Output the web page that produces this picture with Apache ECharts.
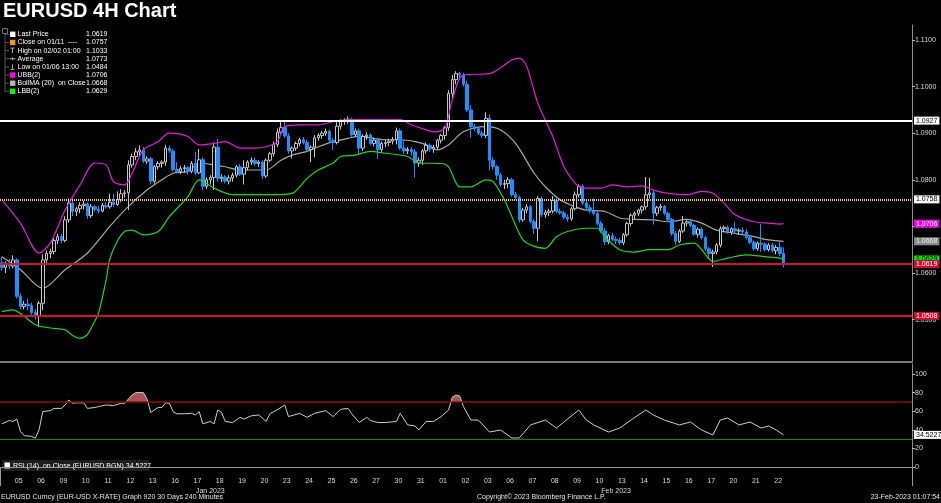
<!DOCTYPE html>
<html><head><meta charset="utf-8">
<script src="https://cdn.jsdelivr.net/npm/echarts@6/dist/echarts.min.js"></script>
<style>html,body{margin:0;padding:0;background:#000;}#c{width:941px;height:503px;}</style>
</head><body><div id="c"></div>
<script>
// ---------- DATA ----------
const dayLabels = ['04','05','06','09','10','11','12','13','16','17','18','19','20','23','24','25','26','27','30','31',
                   '01','02','03','06','07','08','09','10','13','14','15','16','17','20','21','22'];
const dayMonths = ['Jan','Jan','Jan','Jan','Jan','Jan','Jan','Jan','Jan','Jan','Jan','Jan','Jan','Jan','Jan','Jan','Jan','Jan','Jan','Jan',
                   'Feb','Feb','Feb','Feb','Feb','Feb','Feb','Feb','Feb','Feb','Feb','Feb','Feb','Feb','Feb','Feb'];
const hours = ['00:00','04:00','08:00','12:00','16:00','20:00'];
const monthLabels = {56: 'Jan 2023', 165: 'Feb 2023'};

// 4H candles: [open, high, low, close]
const candles = [
[1.0622,1.0635,1.0605,1.0612],[1.0612,1.0625,1.0600,1.0618],
[1.0618,1.0630,1.0608,1.0615],[1.0615,1.0638,1.0610,1.0628],[1.0628,1.0632,1.0545,1.0550],[1.0550,1.0556,1.0522,1.0528],[1.0528,1.0540,1.0522,1.0533],[1.0533,1.0545,1.0520,1.0530],
[1.0530,1.0536,1.0508,1.0515],[1.0515,1.0522,1.0500,1.0508],[1.0508,1.0540,1.0484,1.0535],[1.0535,1.0640,1.0520,1.0628],[1.0628,1.0648,1.0622,1.0642],[1.0642,1.0652,1.0632,1.0646],
[1.0646,1.0675,1.0640,1.0670],[1.0670,1.0684,1.0662,1.0678],[1.0678,1.0684,1.0664,1.0670],[1.0670,1.0722,1.0666,1.0714],[1.0714,1.0760,1.0708,1.0750],[1.0750,1.0760,1.0722,1.0732],
[1.0732,1.0742,1.0722,1.0738],[1.0738,1.0752,1.0728,1.0745],[1.0745,1.0755,1.0736,1.0748],[1.0748,1.0752,1.0716,1.0723],[1.0723,1.0748,1.0718,1.0742],[1.0742,1.0746,1.0732,1.0737],
[1.0737,1.0744,1.0728,1.0733],[1.0733,1.0750,1.0730,1.0745],[1.0745,1.0752,1.0738,1.0742],[1.0742,1.0770,1.0738,1.0752],[1.0752,1.0770,1.0742,1.0747],[1.0747,1.0775,1.0744,1.0757],
[1.0757,1.0780,1.0752,1.0770],[1.0770,1.0778,1.0762,1.0772],[1.0772,1.0842,1.0735,1.0832],[1.0832,1.0856,1.0826,1.0850],[1.0850,1.0868,1.0842,1.0860],[1.0860,1.0874,1.0850,1.0864],
[1.0864,1.0870,1.0836,1.0840],[1.0840,1.0850,1.0834,1.0845],[1.0845,1.0850,1.0790,1.0797],[1.0797,1.0832,1.0792,1.0828],[1.0828,1.0840,1.0822,1.0835],[1.0835,1.0842,1.0826,1.0838],
[1.0838,1.0875,1.0830,1.0868],[1.0868,1.0874,1.0858,1.0862],[1.0862,1.0866,1.0818,1.0822],[1.0822,1.0838,1.0814,1.0818],[1.0818,1.0830,1.0812,1.0824],[1.0824,1.0832,1.0816,1.0826],
[1.0826,1.0830,1.0812,1.0818],[1.0818,1.0840,1.0814,1.0835],[1.0835,1.0860,1.0810,1.0815],[1.0815,1.0866,1.0812,1.0843],[1.0843,1.0848,1.0778,1.0786],[1.0786,1.0805,1.0780,1.0800],
[1.0800,1.0810,1.0790,1.0805],[1.0805,1.0880,1.0778,1.0870],[1.0870,1.0887,1.0796,1.0803],[1.0803,1.0812,1.0795,1.0806],[1.0806,1.0810,1.0792,1.0797],[1.0797,1.0810,1.0790,1.0804],
[1.0804,1.0815,1.0796,1.0810],[1.0810,1.0832,1.0805,1.0828],[1.0828,1.0834,1.0808,1.0812],[1.0812,1.0842,1.0790,1.0826],[1.0826,1.0842,1.0820,1.0838],[1.0838,1.0848,1.0832,1.0842],
[1.0842,1.0848,1.0830,1.0835],[1.0835,1.0842,1.0828,1.0838],[1.0838,1.0842,1.0802,1.0808],[1.0808,1.0846,1.0804,1.0842],[1.0842,1.0860,1.0838,1.0856],[1.0856,1.0882,1.0850,1.0876],
[1.0876,1.0910,1.0870,1.0902],[1.0902,1.0928,1.0896,1.0912],[1.0912,1.0927,1.0890,1.0894],[1.0894,1.0900,1.0856,1.0862],[1.0862,1.0872,1.0846,1.0868],[1.0868,1.0882,1.0862,1.0878],
[1.0878,1.0890,1.0872,1.0886],[1.0886,1.0892,1.0876,1.0880],[1.0880,1.0886,1.0860,1.0865],[1.0865,1.0874,1.0838,1.0870],[1.0870,1.0896,1.0848,1.0890],[1.0890,1.0900,1.0884,1.0895],
[1.0895,1.0905,1.0888,1.0900],[1.0900,1.0910,1.0894,1.0904],[1.0904,1.0908,1.0880,1.0885],[1.0885,1.0890,1.0864,1.0880],[1.0880,1.0925,1.0876,1.0915],[1.0915,1.0930,1.0908,1.0925],
[1.0925,1.0932,1.0918,1.0928],[1.0928,1.0936,1.0920,1.0930],[1.0930,1.0933,1.0892,1.0897],[1.0897,1.0910,1.0892,1.0905],[1.0905,1.0910,1.0855,1.0868],[1.0868,1.0898,1.0862,1.0893],
[1.0893,1.0902,1.0886,1.0896],[1.0896,1.0900,1.0874,1.0878],[1.0878,1.0890,1.0872,1.0885],[1.0885,1.0890,1.0845,1.0865],[1.0865,1.0882,1.0860,1.0878],[1.0878,1.0886,1.0870,1.0880],
[1.0880,1.0888,1.0872,1.0883],[1.0883,1.0892,1.0876,1.0886],[1.0886,1.0912,1.0876,1.0905],[1.0905,1.0910,1.0864,1.0868],[1.0868,1.0885,1.0856,1.0862],[1.0862,1.0870,1.0855,1.0865],
[1.0865,1.0870,1.0852,1.0860],[1.0860,1.0866,1.0805,1.0836],[1.0836,1.0848,1.0828,1.0842],[1.0842,1.0866,1.0832,1.0862],[1.0862,1.0880,1.0856,1.0874],[1.0874,1.0878,1.0860,1.0866],
[1.0866,1.0875,1.0858,1.0870],[1.0870,1.0888,1.0864,1.0885],[1.0885,1.0898,1.0878,1.0895],[1.0895,1.0915,1.0886,1.0912],[1.0912,1.0992,1.0905,1.0985],[1.0985,1.1025,1.0975,1.1015],
[1.1015,1.1033,1.1005,1.1028],[1.1028,1.1032,1.1015,1.1025],[1.1025,1.1030,1.1000,1.1005],[1.1005,1.1012,1.0945,1.0950],[1.0950,1.0960,1.0890,1.0914],[1.0914,1.0920,1.0905,1.0910],
[1.0910,1.0915,1.0896,1.0900],[1.0900,1.0905,1.0890,1.0895],[1.0895,1.0945,1.0890,1.0932],[1.0932,1.0940,1.0820,1.0842],[1.0842,1.0848,1.0822,1.0828],[1.0828,1.0832,1.0800,1.0810],
[1.0810,1.0815,1.0785,1.0790],[1.0790,1.0800,1.0780,1.0792],[1.0792,1.0806,1.0782,1.0800],[1.0800,1.0804,1.0764,1.0768],[1.0768,1.0774,1.0758,1.0762],[1.0762,1.0766,1.0708,1.0714],
[1.0714,1.0740,1.0710,1.0735],[1.0735,1.0748,1.0728,1.0742],[1.0742,1.0746,1.0706,1.0710],[1.0710,1.0716,1.0684,1.0696],[1.0696,1.0765,1.0668,1.0760],[1.0760,1.0764,1.0720,1.0725],
[1.0725,1.0735,1.0718,1.0730],[1.0730,1.0738,1.0722,1.0733],[1.0733,1.0765,1.0728,1.0756],[1.0756,1.0760,1.0728,1.0732],[1.0732,1.0738,1.0725,1.0729],[1.0729,1.0734,1.0715,1.0720],
[1.0720,1.0726,1.0710,1.0716],[1.0716,1.0742,1.0712,1.0738],[1.0738,1.0775,1.0734,1.0768],[1.0768,1.0790,1.0762,1.0786],[1.0786,1.0790,1.0746,1.0750],[1.0750,1.0755,1.0736,1.0740],
[1.0740,1.0746,1.0728,1.0733],[1.0733,1.0760,1.0724,1.0728],[1.0728,1.0732,1.0702,1.0706],[1.0706,1.0712,1.0686,1.0690],[1.0690,1.0696,1.0660,1.0667],[1.0667,1.0684,1.0662,1.0680],
[1.0680,1.0686,1.0668,1.0672],[1.0672,1.0678,1.0662,1.0670],[1.0670,1.0675,1.0660,1.0665],[1.0665,1.0686,1.0660,1.0682],[1.0682,1.0710,1.0678,1.0706],[1.0706,1.0728,1.0700,1.0724],
[1.0724,1.0732,1.0716,1.0728],[1.0728,1.0738,1.0722,1.0735],[1.0735,1.0745,1.0728,1.0742],[1.0742,1.0806,1.0736,1.0768],[1.0768,1.0804,1.0760,1.0772],[1.0772,1.0776,1.0704,1.0728],
[1.0728,1.0744,1.0722,1.0740],[1.0740,1.0748,1.0734,1.0743],[1.0743,1.0746,1.0724,1.0728],[1.0728,1.0732,1.0710,1.0715],[1.0715,1.0718,1.0680,1.0685],[1.0685,1.0690,1.0660,1.0668],
[1.0668,1.0694,1.0664,1.0690],[1.0690,1.0722,1.0686,1.0707],[1.0707,1.0714,1.0700,1.0710],[1.0710,1.0714,1.0698,1.0702],[1.0702,1.0706,1.0680,1.0683],[1.0683,1.0698,1.0676,1.0694],
[1.0694,1.0698,1.0672,1.0676],[1.0676,1.0680,1.0648,1.0652],[1.0652,1.0656,1.0630,1.0642],[1.0642,1.0650,1.0613,1.0645],[1.0645,1.0664,1.0640,1.0660],[1.0660,1.0700,1.0655,1.0695],
[1.0695,1.0702,1.0688,1.0698],[1.0698,1.0702,1.0684,1.0688],[1.0688,1.0698,1.0682,1.0695],[1.0695,1.0710,1.0686,1.0690],[1.0690,1.0696,1.0682,1.0692],[1.0692,1.0698,1.0684,1.0688],
[1.0688,1.0694,1.0672,1.0676],[1.0676,1.0680,1.0662,1.0666],[1.0666,1.0670,1.0648,1.0652],[1.0652,1.0668,1.0648,1.0664],[1.0664,1.0705,1.0645,1.0662],[1.0662,1.0666,1.0646,1.0650],
[1.0650,1.0664,1.0646,1.0660],[1.0660,1.0665,1.0644,1.0648],[1.0648,1.0660,1.0640,1.0655],[1.0655,1.0670,1.0636,1.0642],[1.0642,1.0655,1.0612,1.0619]
];

// Bollinger bands: [candle index, value]
const ubb = [[0,1.0757],[5,1.0707],[10,1.0643],[13,1.0664],[17,1.0735],[21,1.0789],[25,1.0836],[28,1.0832],[30,1.0796],[33,1.0789],[35,1.0814],[38,1.0864],[42,1.0882],[45,1.0900],[50,1.0893],[53,1.0875],[57,1.0878],[60,1.0882],[64,1.0868],[68,1.0868],[71,1.0871],[74,1.0882],[76,1.0914],[80,1.0918],[85,1.0918],[89,1.0925],[94,1.0929],[98,1.0929],[107,1.0929],[110,1.0918],[114,1.0907],[116,1.0903],[119,1.0911],[121,1.0971],[124,1.1025],[131,1.1028],[137,1.1057],[139,1.1061],[141,1.1043],[144,1.0964],[148,1.0893],[151,1.0828],[154,1.0793],[156,1.0782],[161,1.0782],[164,1.0789],[168,1.0785],[172,1.0787],[175,1.0778],[179,1.0771],[184,1.0768],[188,1.0775],[191,1.0771],[194,1.0750],[197,1.0725],[202,1.0710],[206,1.0707],[209,1.0705],[210,1.0706]];
const bollMA = [[0,1.0635],[5,1.0607],[11,1.0567],[17,1.0607],[23,1.0643],[29,1.0700],[34,1.0743],[39,1.0778],[43,1.0800],[46,1.0814],[50,1.0818],[53,1.0836],[57,1.0832],[60,1.0828],[64,1.0821],[68,1.0821],[71,1.0821],[75,1.0842],[78,1.0853],[82,1.0861],[85,1.0871],[89,1.0882],[93,1.0889],[96,1.0893],[100,1.0889],[103,1.0886],[107,1.0886],[111,1.0882],[114,1.0875],[117,1.0864],[120,1.0875],[124,1.0903],[130,1.0914],[134,1.0907],[138,1.0878],[143,1.0814],[146,1.0785],[150,1.0757],[154,1.0742],[157,1.0735],[162,1.0732],[166,1.0718],[170,1.0715],[175,1.0714],[179,1.0710],[184,1.0715],[188,1.0707],[192,1.0692],[197,1.0685],[202,1.0678],[206,1.0671],[210,1.0668]];
const lbb = [[0,1.0517],[3,1.0521],[6,1.0507],[9,1.0489],[13,1.0482],[17,1.0478],[19,1.0466],[21,1.0460],[23,1.0468],[24,1.0482],[26,1.0515],[28,1.0585],[29,1.0630],[31,1.0668],[33,1.0689],[35,1.0692],[38,1.0682],[42,1.0689],[45,1.0721],[50,1.0764],[53,1.0800],[57,1.0782],[62,1.0768],[68,1.0768],[73,1.0768],[78,1.0771],[82,1.0803],[85,1.0821],[89,1.0836],[91,1.0850],[95,1.0853],[99,1.0861],[103,1.0857],[109,1.0850],[112,1.0836],[118,1.0835],[120,1.0828],[123,1.0785],[126,1.0785],[130,1.0800],[132,1.0796],[135,1.0757],[137,1.0721],[140,1.0671],[143,1.0657],[146,1.0653],[149,1.0678],[152,1.0689],[157,1.0696],[160,1.0696],[162,1.0678],[166,1.0650],[170,1.0645],[174,1.0650],[179,1.0650],[182,1.0660],[186,1.0664],[188,1.0650],[191,1.0625],[195,1.0632],[200,1.0639],[205,1.0635],[209,1.0632],[210,1.0629]];

// RSI(14): [candle index, value]
const rsi = [[0,46.4],[2,50],[3,49],[4,51.5],[5,38.3],[6,33.6],[8,33],[9,31],[10,40],[11,59.6],[13,60.6],[14,63],[16,63],[17,66.7],[18,72],[19,68.5],[20,69],[22,69],[23,63],[25,64],[26,65],[28,66.7],[30,66],[32,68.5],[33,68.5],[35,77.4],[36,80],[38,80],[39,72.9],[40,58.7],[42,64],[43,64],[44,69],[45,68.5],[46,59.6],[47,57.2],[49,57.2],[51,57.7],[52,56],[53,59.6],[54,46.4],[56,49],[57,46.4],[58,61.3],[59,58.7],[60,49],[62,47.8],[64,53.4],[65,51.5],[67,55],[69,56],[71,49],[72,57.2],[75,64],[76,66.7],[77,54.2],[80,57.7],[82,53.4],[84,57.7],[87,60.6],[89,54.2],[91,62],[93,63],[94,57.2],[96,47.8],[98,53.4],[99,50],[101,47.8],[103,47.8],[106,49],[107,57.7],[109,45.3],[111,44.1],[112,39.8],[114,49],[116,49],[118,54.2],[120,61.3],[121,75],[122,77.4],[123,76.3],[124,65],[126,50.5],[128,50.5],[131,37.6],[134,39.8],[137,31.2],[139,31.2],[142,45.2],[146,50.5],[149,41.9],[151,48.4],[155,61.3],[157,50.5],[159,45.2],[163,37.6],[166,41.9],[169,50.5],[173,61.3],[175,55.9],[178,50.5],[182,45.2],[185,48.4],[188,39.8],[191,34.4],[193,50.5],[195,52.7],[198,45.2],[201,48.4],[204,41.9],[206,44.1],[208,39.8],[210,34.5]];

const priceLabels = [1.05, 1.06, 1.07, 1.08, 1.09, 1.10, 1.11];
const rsiLabels = [0, 20, 40, 60, 80, 100];

const legendNames = ['Last Price','Close on 01/11  ----','High on 02/02 01:00','Average','Low on 01/06 13:00','UBB(2)','BollMA (20)  on Close','LBB(2)'];
const legendValues = ['1.0619','1.0757','1.1033','1.0773','1.0484','1.0706','1.0668','1.0629'];

const lastPrice = 1.0619, closeRef = 1.0758, hLine = 1.0927, lowLine = 1.0508;
const ubbLast = 1.0706, maLast = 1.0668, lbbLast = 1.0629, rsiLast = 34.5227;

// ---------- BUILD ----------
const N = 245;
const categories = [];
const dayLabelAt = {};
dayLabels.forEach((d, k) => {
  const hrs = k === 0 ? hours.slice(4) : hours;
  if (k > 0) dayLabelAt[categories.length + 2] = d;
  hrs.forEach(h => categories.push(dayMonths[k] + ' ' + d + ' ' + h));
});
while (categories.length < N) categories.push('pad' + categories.length);
const febStart = categories.indexOf('Feb 01 00:00');

const FONT = 'Liberation Sans';
const TXT = '#dcdcdc';
const chart = echarts.init(document.getElementById('c'), null, {renderer: 'canvas'});

function tag(value, text, bg, fg, lineStyle) {
  return {
    yAxis: value,
    lineStyle: lineStyle || {color: 'rgba(0,0,0,0)', width: 0},
    label: {show: true, position: 'end', distance: 2, formatter: text, color: fg, backgroundColor: bg,
            padding: [1, 2, 0, 2], fontSize: 7, fontFamily: FONT}
  };
}

const legendGraphics = [];
legendGraphics.push({type: 'line', shape: {x1: 5, y1: 31, x2: 5, y2: 92}, style: {stroke: '#555', lineWidth: 1}});
legendGraphics.push({type: 'rect', shape: {x: 2.5, y: 28.5, width: 5, height: 5}, style: {fill: '#000', stroke: '#777', lineWidth: 1}});
const iconColors = ['#ffffff', '#f7941d', null, null, null, '#ff00ff', '#b4b4b4', '#00ff00'];
legendNames.forEach((n, k) => {
  const y = 34.3 + 8.15 * k;
  legendGraphics.push({type: 'line', shape: {x1: 5, y1: y, x2: 9, y2: y}, style: {stroke: '#555', lineWidth: 1}});
  if (iconColors[k]) {
    legendGraphics.push({type: 'rect', shape: {x: 10, y: y - 2.7, width: 5.4, height: 5.4}, style: {fill: iconColors[k]}});
  } else if (k === 2) {
    legendGraphics.push({type: 'line', shape: {x1: 10.5, y1: y - 2.5, x2: 14.5, y2: y - 2.5}, style: {stroke: '#aaa', lineWidth: 1}});
    legendGraphics.push({type: 'line', shape: {x1: 12.5, y1: y - 2.5, x2: 12.5, y2: y + 2.5}, style: {stroke: '#aaa', lineWidth: 1}});
  } else if (k === 3) {
    legendGraphics.push({type: 'line', shape: {x1: 9.5, y1: y, x2: 15.5, y2: y}, style: {stroke: '#aaa', lineWidth: 1}});
    legendGraphics.push({type: 'line', shape: {x1: 12.5, y1: y - 1.5, x2: 12.5, y2: y + 1.5}, style: {stroke: '#aaa', lineWidth: 1}});
  } else if (k === 4) {
    legendGraphics.push({type: 'line', shape: {x1: 12.5, y1: y - 2.5, x2: 12.5, y2: y + 2.5}, style: {stroke: '#aaa', lineWidth: 1}});
    legendGraphics.push({type: 'line', shape: {x1: 10.5, y1: y + 2.5, x2: 14.5, y2: y + 2.5}, style: {stroke: '#aaa', lineWidth: 1}});
  }
  legendGraphics.push({type: 'text', x: 17.5, y: y, style: {text: n, fill: '#ffffff', font: '7px "' + FONT + '"', verticalAlign: 'middle', align: 'left'}});
  legendGraphics.push({type: 'text', x: 107.5, y: y, style: {text: legendValues[k], fill: '#ffffff', font: '7px "' + FONT + '"', verticalAlign: 'middle', align: 'right'}});
});

const option = {
  backgroundColor: '#000',
  animation: false,
  title: {text: 'EURUSD 4H Chart', left: 1, top: 0, padding: [1, 2],
          textStyle: {color: '#fff', fontSize: 20, fontWeight: 'bold', fontFamily: FONT}},
  grid: [
    {left: 0, right: 29, top: 25, height: 337},
    {left: 0, right: 29, top: 364, height: 110}
  ],
  xAxis: [
    {type: 'category', gridIndex: 0, data: categories, boundaryGap: true,
     axisLine: {show: true, lineStyle: {color: '#7a7a7a', width: 2}}, axisTick: {show: false}, axisLabel: {show: false}, splitLine: {show: false}},
    {type: 'category', gridIndex: 1, data: categories, boundaryGap: true,
     axisLine: {show: true, lineStyle: {color: '#9a9a9a', width: 1}},
     axisTick: {show: true, interval: (i) => i === febStart, length: 19, lineStyle: {color: '#9a9a9a'}},
     axisLabel: {show: true, interval: (i) => dayLabelAt[i] !== undefined, formatter: (v, i) => dayLabelAt[i] || '',
                 color: TXT, fontSize: 7, fontFamily: FONT, margin: 4, padding: [0, 0, 0, 4]},
     splitLine: {show: false}},
    {type: 'category', gridIndex: 1, data: categories, position: 'bottom', offset: 10, boundaryGap: true,
     axisLine: {show: false}, axisTick: {show: false},
     axisLabel: {show: true, interval: (i) => monthLabels[i] !== undefined, formatter: (v, i) => monthLabels[i] || '',
                 color: TXT, fontSize: 7, fontFamily: FONT, margin: 4},
     splitLine: {show: false}}
  ],
  yAxis: [
    {type: 'value', gridIndex: 0, position: 'right', min: 1.04090, max: 1.11322,
     axisLine: {show: true, lineStyle: {color: '#8c8c8c'}},
     axisTick: {show: true, length: 3, customValues: priceLabels, lineStyle: {color: '#bbbbbb'}},
     axisLabel: {show: true, customValues: priceLabels, formatter: (v) => v.toFixed(4), color: TXT, fontSize: 7, fontFamily: FONT, margin: 3},
     splitLine: {show: false}},
    {type: 'value', gridIndex: 1, position: 'right', min: -7.53, max: 110.75,
     axisLine: {show: true, lineStyle: {color: '#8c8c8c'}},
     axisTick: {show: true, length: 3, customValues: rsiLabels, lineStyle: {color: '#bbbbbb'}},
     axisLabel: {show: true, customValues: rsiLabels, color: TXT, fontSize: 7, fontFamily: FONT, margin: 3},
     splitLine: {show: false}}
  ],
  visualMap: [{
    type: 'piecewise', show: false, seriesIndex: 5, dimension: 1,
    pieces: [{gte: -50, lte: 70, color: 'rgba(0,0,0,0)'}, {gt: 70, lte: 200, color: '#a65656'}]
  }],
  series: [
    {name: 'EURUSD', type: 'candlestick', xAxisIndex: 0, yAxisIndex: 0, barWidth: 3,
     data: candles.map(c => [c[0], c[3], c[2], c[1]]),
     itemStyle: {color: '#000000', borderColor: '#c4c4c4', color0: '#1f8fff', borderColor0: '#1f8fff', borderWidth: 1},
     markLine: {silent: true, symbol: 'none', animation: false, precision: 4,
       data: [
         tag(hLine, '1.0927', '#ffffff', '#000', {color: '#ffffff', width: 2, type: 'solid'}),
         tag(closeRef, '1.0758', '#ffffff', '#000', {color: '#f3c78c', width: 2, type: [1, 1]}),
         tag(ubbLast, ubbLast.toFixed(4), '#ee00ee', '#fff'),
         tag(maLast, maLast.toFixed(4), '#8a8a8a', '#eee'),
         tag(lbbLast, lbbLast.toFixed(4), '#00dd00', '#000'),
         tag(lastPrice, lastPrice.toFixed(4), '#c8102e', '#fff', {color: '#d0142c', width: 2, type: 'solid'}),
         tag(lowLine, lowLine.toFixed(4), '#c8102e', '#fff', {color: '#d0142c', width: 2, type: 'solid'})
       ]}},
    {name: 'UBB(2)', type: 'line', xAxisIndex: 0, yAxisIndex: 0, data: ubb, showSymbol: false, smooth: 0.3,
     lineStyle: {color: '#dd1fdd', width: 1.2}, z: 3},
    {name: 'BollMA (20)', type: 'line', xAxisIndex: 0, yAxisIndex: 0, data: bollMA, showSymbol: false, smooth: 0.3,
     lineStyle: {color: '#a8a8a8', width: 1.2}, z: 1},
    {name: 'LBB(2)', type: 'line', xAxisIndex: 0, yAxisIndex: 0, data: lbb, showSymbol: false, smooth: 0.3,
     lineStyle: {color: '#22d422', width: 1.2}, z: 3},
    {name: 'RSI', type: 'line', xAxisIndex: 1, yAxisIndex: 1, data: rsi, showSymbol: false,
     lineStyle: {color: '#cfcfcf', width: 1}, z: 4,
     markLine: {silent: true, symbol: 'none', animation: false, precision: 4,
       data: [
         {yAxis: 70, lineStyle: {color: '#8e0a0a', width: 1.5, type: 'solid'}, label: {show: false}},
         {yAxis: 30, lineStyle: {color: '#0b8a0b', width: 1, type: 'solid'}, label: {show: false}},
         tag(rsiLast, rsiLast.toFixed(4), '#ffffff', '#000')
       ]}},
    {name: 'RSI fill', type: 'line', xAxisIndex: 1, yAxisIndex: 1, data: rsi, showSymbol: false,
     lineStyle: {width: 0}, areaStyle: {origin: 70, opacity: 1}, z: 3}
  ],
  graphic: legendGraphics.concat([
    {type: 'rect', shape: {x: 2, y: 460, width: 147, height: 11}, style: {fill: '#1e1e1e'}},
    {type: 'rect', shape: {x: 4.5, y: 462.5, width: 5.5, height: 6}, style: {fill: '#ffffff'}},
    {type: 'text', x: 13, y: 466, style: {text: 'RSI (14)  on Close (EURUSD BGN) 34.5227', fill: '#ffffff', font: '7px "' + FONT + '"', verticalAlign: 'middle'}},
    {type: 'text', x: 1, y: 497, style: {text: 'EURUSD Curncy (EUR-USD X-RATE) Graph 920 30 Days 240 Minutes', fill: '#e6e6e6', font: '7px "' + FONT + '"', verticalAlign: 'middle'}},
    {type: 'text', x: 477, y: 497, style: {text: 'Copyright\u00a9 2023 Bloomberg Finance L.P.', fill: '#e6e6e6', font: '7px "' + FONT + '"', verticalAlign: 'middle'}},
    {type: 'text', x: 940, y: 497, style: {text: '23-Feb-2023 01:07:54', fill: '#e6e6e6', font: '7px "' + FONT + '"', verticalAlign: 'middle', align: 'right'}}
  ])
};
chart.setOption(option);
</script>
</body></html>
